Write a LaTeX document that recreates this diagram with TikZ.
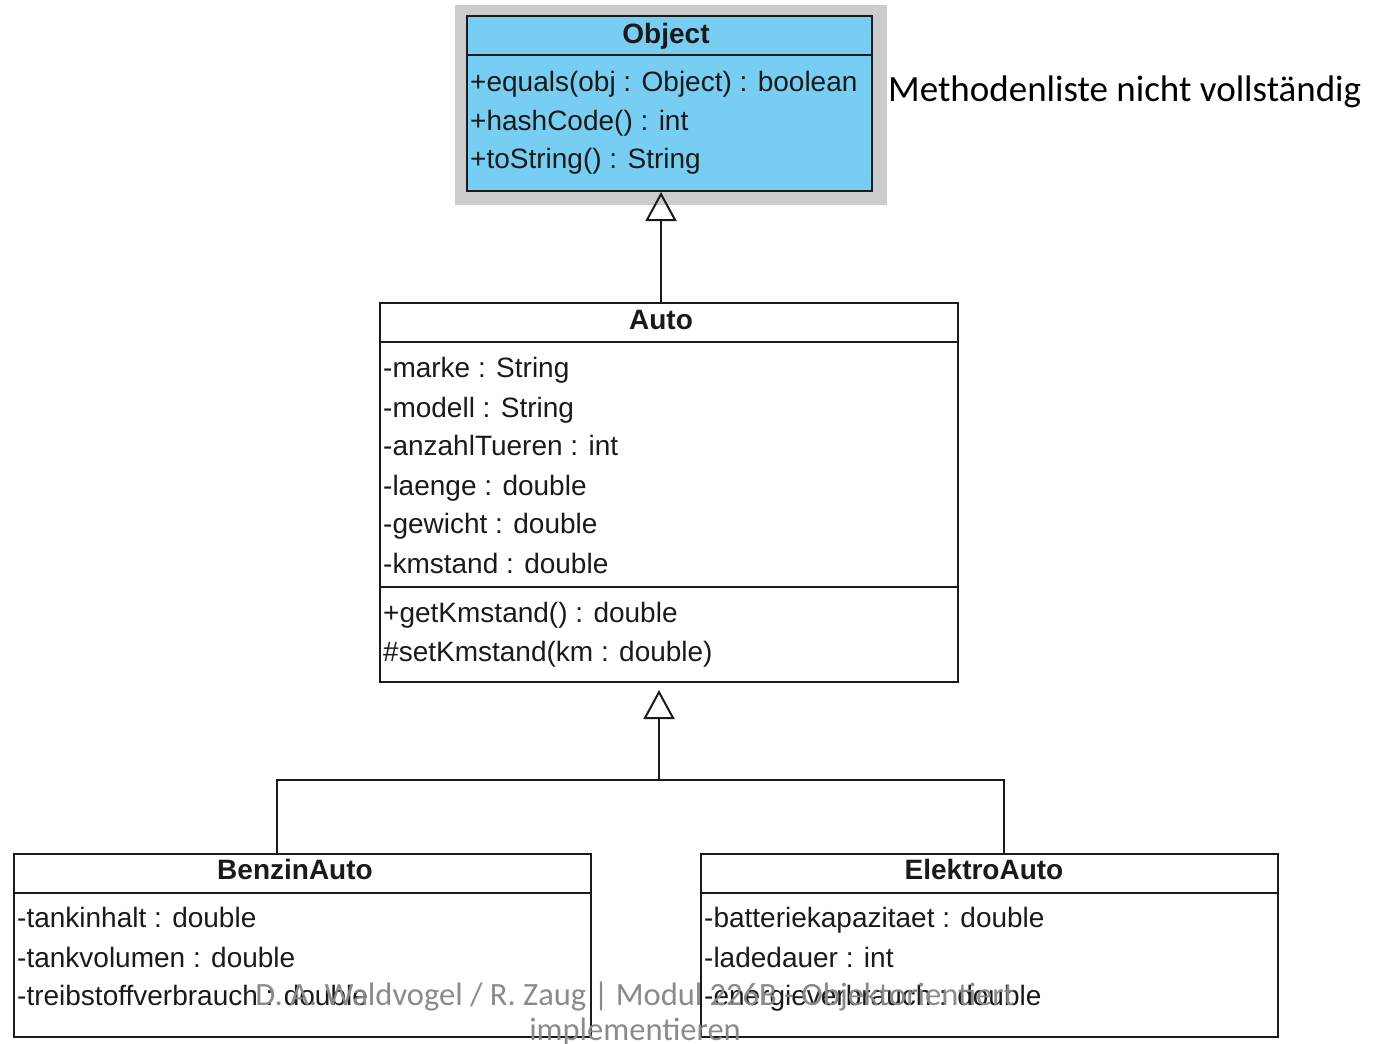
\documentclass[tikz,border=0pt]{standalone}
\usepackage{fontspec}
\setmainfont{Liberation Sans}
\newfontfamily\notefont{Carlito}
\usetikzlibrary{arrows.meta}
\definecolor{objfill}{HTML}{78CDF2}
\definecolor{backdrop}{HTML}{CCCCCC}
\definecolor{ink}{HTML}{1A1A1A}
\definecolor{footgray}{HTML}{8A8A8A}
\tikzset{
  classbox/.style={draw=ink, line width=2pt, inner sep=0pt, anchor=north west},
  sep/.style={draw=ink, line width=1.8pt},
  title/.style={font=\fontsize{28}{32}\selectfont\bfseries, text=ink, inner sep=0pt, text height=20pt, text depth=6pt, yshift=-2pt},
  member/.style={font=\fontsize{28}{32}\selectfont, text=ink, anchor=west, inner sep=0pt, text height=20pt, text depth=6pt, yshift=-2pt},
  link/.style={draw=ink, line width=2pt},
  inherit/.style={link, -{Triangle[open, width=31pt, length=29pt, line width=2pt]}},
}
\begin{document}
\begin{tikzpicture}[x=1pt, y=-1pt]
\useasboundingbox (0,0) rectangle (1376,1044);

% Object, on its grey backdrop
\fill[backdrop] (455,5) rectangle (887,205);
\node[classbox, fill=objfill, minimum width=405pt, minimum height=175pt] (object) at (466,15) {};
\draw[sep] (466,55) -- (871,55);
\node[title] (objectname) at (666,34) {Object};
\node[member] (o1) at (470,82) {+equals(obj : Object) : boolean};
\node[member] (o2) at (470,121) {+hashCode() : int};
\node[member] (o3) at (470,159) {+toString() : String};
\node[font=\notefont\fontsize{37}{42}\selectfont, anchor=west, inner sep=0pt, text=black] (note) at (888,92) {Methodenliste nicht vollständig};

% Auto
\node[classbox, minimum width=578pt, minimum height=379pt] (auto) at (379,302) {};
\draw[sep] (379,342) -- (957,342);
\draw[sep] (379,587) -- (957,587);
\node[title] (autoname) at (661,320) {Auto};
\node[member] (a1) at (383,368) {-marke : String};
\node[member] (a2) at (383,408) {-modell : String};
\node[member] (a3) at (383,446) {-anzahlTueren : int};
\node[member] (a4) at (383,486) {-laenge : double};
\node[member] (a5) at (383,524) {-gewicht : double};
\node[member] (a6) at (383,564) {-kmstand : double};
\node[member] (a7) at (383,613) {+getKmstand() : double};
\node[member] (a8) at (383,652) {\#setKmstand(km : double)};

% BenzinAuto
\node[classbox, minimum width=577pt, minimum height=183pt] (benzin) at (13,853) {};
\draw[sep] (13,893) -- (590,893);
\node[title] (benzinname) at (295,870) {BenzinAuto};
\node[member] (b1) at (17,918) {-tankinhalt : double};
\node[member] (b2) at (17,958) {-tankvolumen : double};
\node[member] (b3) at (17,996) {-treibstoffverbrauch : double};

% ElektroAuto
\node[classbox, minimum width=577pt, minimum height=183pt] (elektro) at (700,853) {};
\draw[sep] (700,893) -- (1277,893);
\node[title] (elektroname) at (984,870) {ElektroAuto};
\node[member] (e1) at (704,918) {-batteriekapazitaet : double};
\node[member] (e2) at (704,958) {-ladedauer : int};
\node[member] (e3) at (704,996) {-energieverbrauch : double};

% generalisations
\coordinate (up) at (661,0);
\draw[inherit] (auto.north -| up) -- (object.south -| up);
\coordinate (fork) at (659,780);
\draw[link] (benzin.north -| 277,0) |- (fork);
\draw[link] (elektro.north -| 1004,0) |- (fork);
\draw[inherit, shorten >=7pt] (fork) -- (fork |- auto.south);

% footer
\node[font=\notefont\fontsize{32.5}{35}\selectfont, text=footgray, align=center, inner sep=0pt, anchor=north] (footer) at (635,982)
  {D. A. Waldvogel / R. Zaug | Modul 226B - Objektorientiert\\implementieren};
\end{tikzpicture}
\end{document}
